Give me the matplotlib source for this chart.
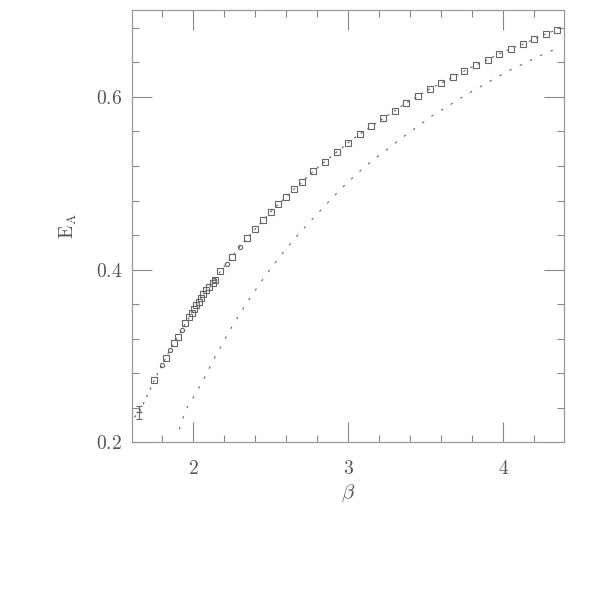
import matplotlib.pyplot as plt
from matplotlib.ticker import MultipleLocator, FormatStrFormatter
import numpy as np

# open squares
sq_beta = [1.75, 1.825, 1.875, 1.90, 1.95, 1.975, 1.99, 2.005, 2.02, 2.035, 2.05, 2.065,
           2.085, 2.10, 2.125, 2.14, 2.175, 2.25, 2.35, 2.40, 2.45, 2.50, 2.55, 2.60,
           2.65, 2.70, 2.775, 2.85, 2.925, 3.0, 3.075, 3.15, 3.225, 3.30, 3.375, 3.45,
           3.525, 3.60, 3.675, 3.75, 3.825, 3.90, 3.975, 4.05, 4.125, 4.20, 4.275, 4.35]
sq_ea = [0.272, 0.298, 0.315, 0.322, 0.338, 0.345, 0.350, 0.354, 0.359, 0.363, 0.367, 0.372,
         0.376, 0.380, 0.385, 0.388, 0.398, 0.415, 0.437, 0.447, 0.457, 0.467, 0.476, 0.484,
         0.493, 0.501, 0.514, 0.525, 0.536, 0.547, 0.557, 0.566, 0.575, 0.584, 0.593, 0.601,
         0.609, 0.616, 0.623, 0.630, 0.637, 0.643, 0.650, 0.656, 0.661, 0.667, 0.673, 0.678]

# small octagons
oc_beta = [1.80, 1.85, 1.925, 2.135, 2.215, 2.30]
oc_ea = [0.290, 0.307, 0.330, 0.388, 0.407, 0.4265]

# point with error bar
eb_beta = [1.652]
eb_ea = [0.2347]
eb_err = [0.0073]

# upper dotted curve start
start_beta = [1.62]
start_ea = [0.229]

# lower dotted curve
low_beta = [1.91, 1.95, 2.05, 2.15, 2.25, 2.35, 2.45, 2.55, 2.65, 2.75, 2.85, 2.95, 3.05,
             3.15, 3.25, 3.35, 3.45, 3.55, 3.65, 3.75, 3.85, 3.95, 4.05, 4.15, 4.25, 4.32]
low_ea = [0.215, 0.237, 0.267, 0.302, 0.334, 0.363, 0.389, 0.413, 0.435, 0.455, 0.474, 0.493,
          0.510, 0.5255, 0.539, 0.553, 0.566, 0.579, 0.590, 0.6015, 0.6115, 0.622, 0.6315,
          0.640, 0.6487, 0.6541]

GREY = '#666666'
TXT = '#555555'

plt.rcParams['mathtext.fontset'] = 'cm'
plt.rcParams['font.family'] = 'serif'

fig = plt.figure(figsize=(5.95, 5.95), dpi=100)
ax = fig.add_axes([0.2213, 0.2566, 0.7266, 0.7266])

up_beta = np.array(start_beta + eb_beta + sq_beta + oc_beta)
up_ea = np.array(start_ea + eb_ea + sq_ea + oc_ea)
order = np.argsort(up_beta)
ax.plot(up_beta[order], up_ea[order], color=GREY, lw=0.8, ls=(0, (2.2, 5)))
ax.plot(low_beta, low_ea, color=GREY, lw=0.8, ls=(0, (2.2, 8)))

ax.plot(sq_beta, sq_ea, ls='none', marker='s', ms=4.0, mfc='none', mec=GREY, mew=0.8)
ax.plot(oc_beta, oc_ea, ls='none', marker='8', ms=3.2, mfc='none', mec=GREY, mew=0.8)
ax.errorbar(eb_beta, eb_ea, yerr=eb_err, fmt='_', ms=5, color=GREY, ecolor=GREY,
            elinewidth=0.8, capsize=2.5, capthick=0.8)

ax.set_xlim(1.603, 4.392)
ax.set_ylim(0.2, 0.7006)

ax.xaxis.set_major_locator(MultipleLocator(1))
ax.xaxis.set_minor_locator(MultipleLocator(0.2))
ax.yaxis.set_major_locator(MultipleLocator(0.2))
ax.yaxis.set_minor_locator(MultipleLocator(0.04))
ax.xaxis.set_major_formatter(FormatStrFormatter(r'$%g$'))
ax.yaxis.set_major_formatter(FormatStrFormatter(r'$%.1f$'))

ax.tick_params(which='both', direction='in', top=True, right=True, color='#888888',
               width=0.8, labelcolor=TXT, labelsize=14)
ax.tick_params(which='major', length=14.4)
ax.tick_params(which='minor', length=5)
ax.tick_params(axis='x', which='major', pad=13)
ax.tick_params(axis='y', which='major', pad=7)

for s in ax.spines.values():
    s.set_color('#999999')
    s.set_linewidth(0.9)

ax.set_xlabel(r'$\beta$', fontsize=15, color=TXT, labelpad=3)
ax.set_ylabel(r'$\mathrm{E}_\mathrm{A}$', fontsize=14, color=TXT, labelpad=12)

fig.savefig('out.png', dpi=100, facecolor='white')
